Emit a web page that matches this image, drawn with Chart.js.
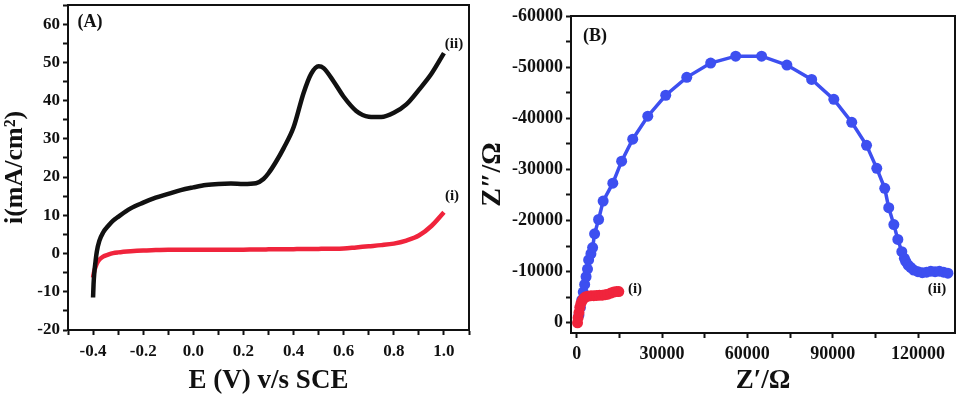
<!DOCTYPE html>
<html><head><meta charset="utf-8">
<script src="https://cdn.jsdelivr.net/npm/chart.js@4.4.1/dist/chart.umd.min.js"></script>
<style>
html,body{margin:0;padding:0;background:#fff;width:965px;height:398px;overflow:hidden}
#wa{position:absolute;left:0;top:0;width:480px;height:398px}
#wb{position:absolute;left:480px;top:0;width:485px;height:398px}
</style></head><body>
<div id="wa"><canvas id="ca" width="480" height="398"></canvas></div>
<div id="wb"><canvas id="cb" width="485" height="398"></canvas></div>
<script>
// ---- Panel A: linear sweep voltammetry ----
const potentialE = [-0.40,-0.398,-0.395,-0.39,-0.385,-0.375,-0.36,-0.34,-0.32,-0.30,-0.25,-0.20,-0.15,-0.10,-0.05,0.00,0.05,0.10,0.15,0.20,0.25,0.28,0.30,0.33,0.36,0.40,0.44,0.47,0.50,0.52,0.56,0.60,0.65,0.70,0.75,0.80,0.85,0.90,0.95,1.00];
const currentII = [-11.5,-8,-5,-2,0.5,3.3,5.5,7.2,8.6,9.6,11.8,13.3,14.6,15.6,16.6,17.3,17.9,18.2,18.3,18.2,18.4,19.5,21,24,27.5,33,42,47,49,48.5,45,41,37.3,35.8,35.7,36.8,39,42.8,47,52.4];
const currentI  = [-6.3,-5.5,-4.6,-3.5,-2.6,-1.6,-0.8,-0.3,0.1,0.3,0.6,0.8,0.9,1.0,1.0,1.0,1.0,1.0,1.0,1.0,1.05,1.05,1.1,1.1,1.1,1.15,1.2,1.2,1.2,1.25,1.25,1.3,1.6,1.9,2.2,2.6,3.4,4.7,7.2,10.8];
const majorTicksAX = [-0.4,-0.2,0.0,0.2,0.4,0.6,0.8,1.0];
const majorTicksAY = [-20,-10,0,10,20,30,40,50,60];

// ---- Panel B: Nyquist plot ----
const zReII = [800,1300,1800,2300,2800,3300,3800,4200,5000,5600,6300,7700,9300,12700,15800,19700,25000,31300,38700,47100,55900,65000,73900,82600,90400,96700,101900,105500,108300,109700,111500,112900,114300,115200,115700,116500,117500,118500,120000,121500,123000,124500,126000,127500,129000,130500];
const zImII = [-1500,-3000,-4500,-6000,-7500,-9000,-10500,-12300,-13500,-14700,-17400,-20200,-23800,-27300,-31600,-35900,-40400,-44500,-48000,-50800,-52150,-52150,-50400,-47600,-43700,-39200,-34700,-30200,-26300,-22500,-19200,-16300,-13900,-12600,-12000,-11300,-10800,-10300,-10000,-9800,-9900,-10100,-10000,-10100,-9900,-9700];
const zReI = [300,500,800,1100,1500,2000,2600,3200,4000,5000,6000,7000,8000,9000,10000,11000,12000,13000,14000,14800];
const zImI = [0,-1000,-2000,-3000,-3800,-4400,-4800,-5100,-5200,-5300,-5300,-5350,-5400,-5400,-5500,-5600,-5800,-6000,-6100,-6100];
const majorTicksBX = [0,30000,60000,90000,120000];
const majorTicksBY = [0,-10000,-20000,-30000,-40000,-50000,-60000];

const SERIF = '"Liberation Serif","DejaVu Serif",serif';
const BLACK = '#111';
const RED = '#f0243c';
const BLUE = '#3d4ff0';

const frame = {id:'frame', afterDatasetsDraw(c){
  const a=c.chartArea, x=c.ctx; x.save(); x.strokeStyle=BLACK; x.lineWidth=2;
  x.strokeRect(a.left,a.top,a.right-a.left,a.bottom-a.top); x.restore();}};
const notes = {id:'notes', afterDraw(c, args, opts){
  const x=c.ctx; x.save(); x.fillStyle=BLACK; x.textAlign='center'; x.textBaseline='middle';
  (opts.items||[]).forEach(it=>{ x.font='bold '+it.size+'px '+SERIF; x.fillText(it.t,it.x,it.y); });
  x.restore();}};

function near(v, list, eps){ return list.some(m=>Math.abs(m-v)<eps); }

function axis(o){
  return Object.assign({
    type:'linear',
    border:{display:true,color:BLACK,width:2},
    grid:{display:true,drawOnChartArea:false,drawTicks:true,tickLength:5,tickColor:BLACK,tickWidth:2},
  }, o);
}

const ptsA1 = potentialE.map((e,i)=>({x:e,y:currentI[i]}));
const ptsA2 = potentialE.map((e,i)=>({x:e,y:currentII[i]}));

new Chart(document.getElementById('ca'), {
  type:'line',
  data:{datasets:[
    {data:ptsA2,borderColor:BLACK,borderWidth:4.5,pointRadius:0,cubicInterpolationMode:'monotone',fill:false},
    {data:ptsA1,borderColor:RED,borderWidth:4.5,pointRadius:0,cubicInterpolationMode:'monotone',fill:false}
  ]},
  options:{
    responsive:false,animation:false,
    layout:{padding:{left:0,right:11,top:5,bottom:0}},
    plugins:{legend:{display:false},tooltip:{enabled:false},
      notes:{items:[{t:'(A)',x:90,y:22,size:18},{t:'(ii)',x:454,y:44,size:15},{t:'(i)',x:452,y:196,size:15}]}},
    scales:{
      x:axis({min:-0.5,max:1.1,
        ticks:{stepSize:0.1,color:BLACK,padding:6,maxRotation:0,autoSkip:false,font:{family:SERIF,size:17,weight:'bold'},
          callback:v=>near(v,majorTicksAX,1e-6)?(Math.round(v*10)/10).toFixed(1):''},
        title:{display:true,text:'E (V) v/s SCE',color:BLACK,font:{family:SERIF,size:27,weight:'bold',lineHeight:1},padding:{top:0,bottom:3}},
        afterFit:s=>{s.height=68; s.paddingLeft=0; s.paddingRight=0;}}),
      y:axis({min:-20,max:65,
        ticks:{stepSize:5,color:BLACK,padding:3,autoSkip:false,font:{family:SERIF,size:17,weight:'bold'},
          callback:v=>near(v,majorTicksAY,1e-6)?String(Math.round(v)):''},
        title:{display:true,text:'i(mA/cm²)',color:BLACK,font:{family:SERIF,size:26,weight:'bold',lineHeight:1},padding:{top:2,bottom:0}},
        afterFit:s=>{s.width=68; s.paddingTop=0; s.paddingBottom=0;}})
    }
  },
  plugins:[frame,notes]
});

const ptsB1 = zReI.map((v,i)=>({x:v,y:zImI[i]}));
const ptsB2 = zReII.map((v,i)=>({x:v,y:zImII[i]}));

new Chart(document.getElementById('cb'), {
  type:'scatter',
  data:{datasets:[
    {data:ptsB1,order:0,showLine:true,borderColor:RED,backgroundColor:RED,borderWidth:4,pointRadius:5.5,pointBorderWidth:0},
    {data:ptsB2,order:1,showLine:true,borderColor:BLUE,backgroundColor:BLUE,borderWidth:3.5,pointRadius:5.5,pointBorderWidth:0}
  ]},
  options:{
    responsive:false,animation:false,
    layout:{padding:{left:0,right:10,top:16,bottom:0}},
    plugins:{legend:{display:false},tooltip:{enabled:false},
      notes:{items:[{t:'(B)',x:115,y:36,size:18},{t:'(i)',x:155,y:289,size:15},{t:'(ii)',x:457,y:289,size:15}]}},
    scales:{
      x:axis({min:-2000,max:133000,
        afterBuildTicks:s=>{const t=[];for(let v=0;v<=130000;v+=15000)t.push({value:v});s.ticks=t;},
        ticks:{color:BLACK,padding:6,maxRotation:0,autoSkip:false,font:{family:SERIF,size:18,weight:'bold'},
          callback:v=>near(v,majorTicksBX,1)?String(v):''},
        title:{display:true,text:'Z′/Ω',color:BLACK,font:{family:SERIF,size:27,weight:'bold',lineHeight:1},padding:{top:0,bottom:3}},
        afterFit:s=>{s.height=65; s.paddingLeft=0; s.paddingRight=0;}}),
      y:axis({min:-60000,max:2000,reverse:true,
        afterBuildTicks:s=>{const t=[];for(let v=0;v>=-60000;v-=5000)t.push({value:v});s.ticks=t;},
        ticks:{color:BLACK,padding:3,autoSkip:false,font:{family:SERIF,size:18,weight:'bold'},
          callback:v=>near(v,majorTicksBY,1)?String(v):''},
        title:{display:true,text:'Z″/Ω',color:BLACK,font:{family:SERIF,size:28,weight:'bold',lineHeight:0.9},padding:{top:0,bottom:0}},
        afterFit:s=>{s.width=91; s.paddingTop=0; s.paddingBottom=0;}})
    }
  },
  plugins:[frame,notes]
});
</script>
</body></html>
